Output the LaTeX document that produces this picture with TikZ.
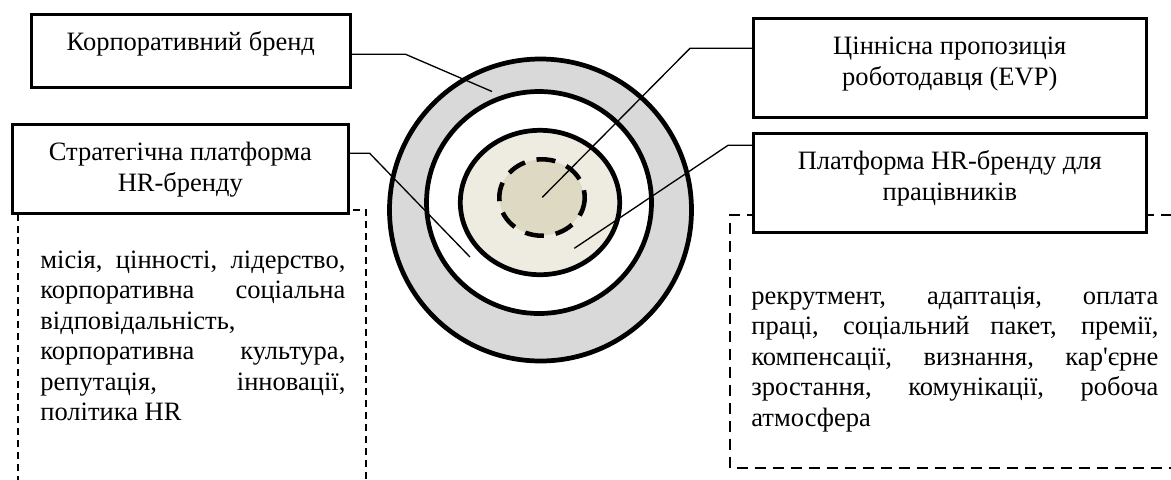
\documentclass[tikz,border=0pt]{standalone}
\usepackage{fontspec}
\setmainfont{Liberation Serif}[Ligatures=TeXOff]
\newlength\px \setlength\px{0.528pt}
\definecolor{ringgray}{HTML}{D9D9D9}
\definecolor{tanlight}{HTML}{EEECE1}
\definecolor{tandark}{HTML}{DDD9C3}
\tikzset{
  box/.style={draw, line width=1.4pt, fill=white, inner sep=0pt, anchor=north west},
  ring/.style={draw, line width=2.5pt},
  leader/.style={draw, line width=0.7pt},
  dashL/.style={line width=0.8pt, dash pattern=on 3.7pt off 2.6pt},
  dashR/.style={line width=1.2pt, dash pattern=on 5.8pt off 3.7pt},
  dashC/.style={line width=2.4pt, dash pattern=on 10pt off 6.3pt},
  txt/.style={inner sep=0pt, anchor=north west},
}
\newcommand\boxtext[3]{\parbox[c][#2\px][t]{#1\px}{\centering\vspace*{8pt}\strut #3}}
\newcommand\bodytext[2]{\parbox[t]{#1\px}{\hyphenpenalty=10000\exhyphenpenalty=10000\tolerance=10000\hbadness=10000\strut #2}}
\begin{document}
\begin{tikzpicture}[x=0.528pt,y=-0.528pt, every node/.style={font=\fontsize{14}{16.1}\selectfont}]
\useasboundingbox (0,0) rectangle (1171,479);
\clip (0,0) rectangle (1171,479);

% dashed frames
\draw[dashL] (18,495) -- (18,210) -- (366,210) -- (366,495);
\draw[dashR] (1190,215) -- (730,215) -- (730,468) -- (1190,468);

% rings
\draw[ring, fill=ringgray] (540.5,210) ellipse [x radius=151, y radius=151];
\draw[ring, fill=white] (539,202.5) ellipse [x radius=112.5, y radius=111];
\draw[ring, fill=tanlight] (540,202.5) ellipse [x radius=79.7, y radius=72.2];
\fill[tandark] (541.5,197.5) ellipse [x radius=42, y radius=38];
\draw[dashC] (542,197.5) ellipse [x radius=42.7, y radius=38.2];

% text blocks
\node[txt] (stratT) at (40,246.7) {\bodytext{305}{місія, цінності, лідерство,\linebreak корпоративна соціальна\linebreak відповідальність,\newline корпоративна культура,\linebreak репутація, інновації,\linebreak політика HR}};
\node[txt] (platT) at (751,282.7) {\bodytext{407}{рекрутмент, адаптація, оплата\linebreak праці, соціальний пакет, премії,\linebreak компенсації, визнання, кар'єрне\linebreak зростання, комунікації, робоча\linebreak атмосфера}};

% boxes
\node[box] (corp) at (30,13) {\boxtext{319}{73}{Корпоративний бренд}};
\node[box] (strat) at (11,123) {\boxtext{336}{89}{Стратегічна платформа\\HR-бренду}};
\node[box] (evp) at (752,17) {\boxtext{393}{99}{Ціннісна пропозиція\\роботодавця (EVP)}};
\node[box] (plat) at (752,132) {\boxtext{393}{99}{Платформа HR-бренду для\\працівників}};

% leader ends
\coordinate (corpEnd) at (492,91.5);
\coordinate (stratEnd) at (470,257);
\coordinate (evpEnd) at (542.3,197.3);
\coordinate (platEnd) at (574.3,248.3);

\draw[leader] ([yshift=-1.85pt]corp.east) -- ++(54,0) -- (corpEnd);
\draw[leader] ([yshift=8.2pt]strat.east) -- ++(20,0) -- (stratEnd);
\draw[leader] ([yshift=10.3pt]evp.west) -- ++(-62,0) -- (evpEnd);
\draw[leader] ([yshift=19.8pt]plat.west) -- ++(-24,0) -- (platEnd);
\end{tikzpicture}
\end{document}
